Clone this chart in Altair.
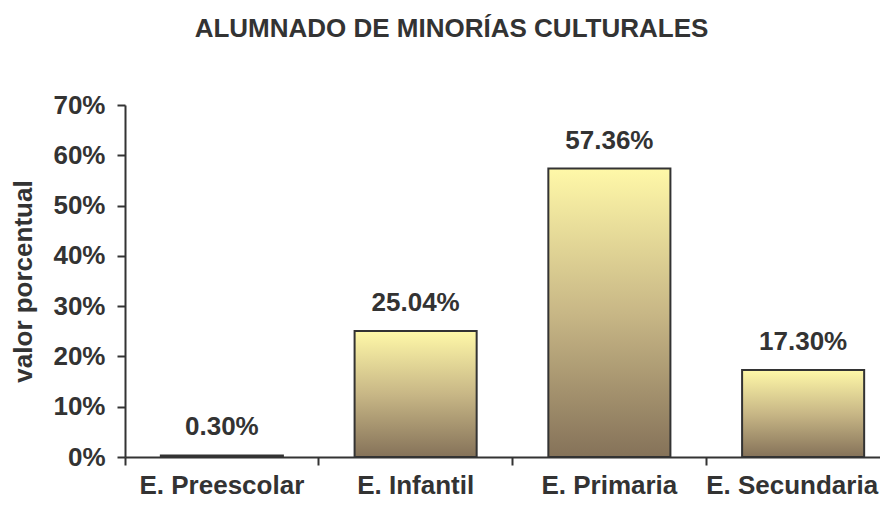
import altair as alt
import pandas as pd

categories = ["E. Preescolar", "E. Infantil", "E. Primaria", "E. Secundaria"]
values_pct = [0.30, 25.04, 57.36, 17.30]
y_ticks = [0, 0.1, 0.2, 0.3, 0.4, 0.5, 0.6, 0.7]

df = pd.DataFrame({"cat": categories, "val": [v / 100 for v in values_pct]})

FONT = "Liberation Sans"
TXT = "#333333"
FS = 26

gradient = {
    "gradient": "linear",
    "x1": 0, "y1": 0, "x2": 0, "y2": 1,
    "stops": [
        {"offset": 0, "color": "#FFF8A8"},
        {"offset": 0.5, "color": "#C8B786"},
        {"offset": 1, "color": "#857259"},
    ],
}

x = alt.X(
    "cat:N",
    sort=categories,
    title=None,
    scale=alt.Scale(paddingInner=0, paddingOuter=0),
    axis=alt.Axis(
        bandPosition=0,
        labelAngle=0,
        labelFont=FONT, labelFontSize=FS, labelFontWeight="bold", labelColor=TXT,
        labelPadding=7,
        labelOffset={"condition": {"test": "datum.value === 'E. Secundaria'", "value": -11}, "value": 0},
        domainColor=TXT, domainWidth=2,
        tickColor=TXT, tickWidth=2, tickSize=8,
        grid=False,
    ),
)

y = alt.Y(
    "val:Q",
    title="valor porcentual",
    scale=alt.Scale(domain=[0, 0.7], nice=False),
    axis=alt.Axis(
        values=y_ticks, format=".0%",
        labelFont=FONT, labelFontSize=FS, labelFontWeight="bold", labelColor=TXT,
        labelPadding=12,
        domainColor=TXT, domainWidth=2,
        tickColor=TXT, tickWidth=2, tickSize=8,
        grid=False,
        titleFont=FONT, titleFontSize=FS, titleFontWeight="bold", titleColor=TXT,
        titleAngle=-90, titleX=-102, titleY=176,
        titleAlign="center", titleBaseline="middle",
    ),
)

bars = alt.Chart(df).mark_bar(
    width=alt.RelativeBandSize(0.63),
    fill=gradient,
    stroke="#333333",
    strokeWidth=2,
).encode(x=x, y=y)

labels = alt.Chart(df).mark_text(
    font=FONT, fontSize=FS, fontWeight="bold", color=TXT,
    baseline="alphabetic", dy=-20,
).encode(x=x, y=y, text=alt.Text("val:Q", format=".2%"))

chart = (
    alt.layer(bars, labels)
    .properties(
        width=775,
        height=352,
        title=alt.TitleParams(
            "ALUMNADO DE MINORÍAS CULTURALES",
            font=FONT, fontSize=FS, fontWeight="bold", color=TXT,
            anchor="middle", frame="group", dx=-61, offset=29,
            baseline="alphabetic",
        ),
        autosize=alt.AutoSizeParams(type="none"),
        padding={"left": 117, "top": 97, "right": -20, "bottom": 42},
    )
    .configure_view(stroke=None)
)

chart.save("out.html", embed_options={"renderer": "svg", "actions": False})
